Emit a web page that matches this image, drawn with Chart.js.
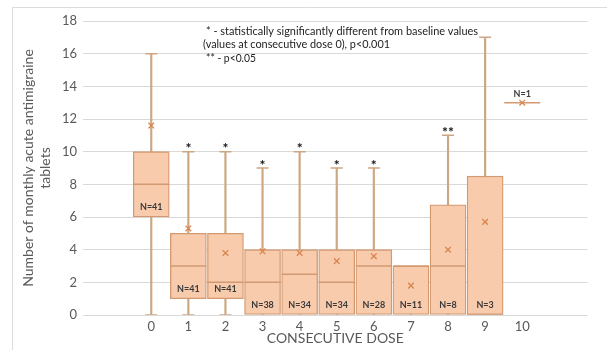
<!DOCTYPE html>
<html>
<head>
<meta charset="utf-8">
<script src="https://cdn.jsdelivr.net/npm/chart.js@4.4.1/dist/chart.umd.min.js"></script>
<style>
  html, body { margin: 0; padding: 0; background: #fff; }
</style>
</head>
<body>
<canvas id="doseChart" width="607" height="350"></canvas>
<script>
// values (tablets per month, by consecutive dose)
const doses   = [0, 1, 2, 3, 4, 5, 6, 7, 8, 9, 10];
const mins    = [0, 0, 0, 0, 0, 0, 0, 0, 0, 0, 13];
const q1s     = [6, 1, 1, 0, 0, 0, 0, 0, 0, 0, 13];
const medians = [8, 3, 2, 2, 2.5, 2, 3, 3, 3, 0, 13];
const q3s     = [10, 5, 5, 4, 4, 4, 4, 3, 6.75, 8.5, 13];
const maxs    = [16, 10, 10, 9, 10, 9, 9, 3, 11, 17, 13];
const means   = [11.6, 5.3, 3.8, 3.9, 3.8, 3.3, 3.6, 1.8, 4.0, 5.7, 13];
const nCounts = [41, 41, 41, 38, 34, 34, 28, 11, 8, 3, 1];
const sigMarks = ['', '*', '*', '*', '*', '*', '*', '', '**', '', ''];
const yTicks = [0, 2, 4, 6, 8, 10, 12, 14, 16, 18];
const noteLines = [
    '* - statistically significantly different from baseline values',
    '(values at consecutive dose 0), p<0.001',
    '** - p<0.05'
];

const boxFill = '#F8CBAD';
const boxEdge = '#D39A72';
const whiskerColor = '#CDA682';
const meanColor = '#D9844C';
const grayText = '#595959';

// caps only where the whisker sticks out of the box
const caps = [];
doses.forEach((d, i) => {
    if (mins[i] < q1s[i]) caps.push({ x: d, y: mins[i] });
    if (maxs[i] > q3s[i]) caps.push({ x: d, y: maxs[i] });
});

// texts: N=, significance marks, note, frame
const labelPlugin = {
    id: 'boxLabels',
    beforeDraw(chart) {
        const ctx = chart.ctx;
        ctx.save();
        ctx.strokeStyle = '#dcdcdc';
        ctx.lineWidth = 1;
        ctx.beginPath();
        ctx.moveTo(12.5, 350);
        ctx.lineTo(12.5, 7.5);
        ctx.lineTo(607, 7.5);
        ctx.stroke();
        ctx.restore();
    },
    afterDatasetsDraw(chart) {
        const { ctx, scales: { x, y } } = chart;
        ctx.save();
        ctx.textAlign = 'center';
        ctx.textBaseline = 'middle';

        ctx.font = 'bold 9px Lato';
        ctx.fillStyle = '#3a3a3a';
        doses.forEach((d, i) => {
            const px = x.getPixelForValue(d);
            let py = y.getPixelForValue(q1s[i]) - 10;
            if (q1s[i] === q3s[i]) py = y.getPixelForValue(q3s[i]) - 9;
            ctx.fillText('N=' + nCounts[i], px, py);
        });

        ctx.font = 'bold 14px Lato';
        ctx.fillStyle = '#111';
        sigMarks.forEach((m, i) => {
            if (!m) return;
            ctx.fillText(m, x.getPixelForValue(doses[i]), y.getPixelForValue(maxs[i]) - 3);
        });

        ctx.textAlign = 'left';
        ctx.font = '11px Lato';
        ctx.fillStyle = '#222';
        ctx.fillText(noteLines[0], 206, 31, 272);
        ctx.fillText(noteLines[1], 203, 44, 187);
        ctx.fillText(noteLines[2], 206, 58, 50);
        ctx.restore();
    }
};

const ctx = document.getElementById('doseChart').getContext('2d');
new Chart(ctx, {
    type: 'bar',
    data: {
        datasets: [
            {
                type: 'line',
                label: 'mean',
                data: doses.map((d, i) => ({ x: d, y: means[i] })),
                showLine: false,
                pointStyle: 'crossRot',
                pointRadius: 4,
                borderColor: meanColor,
                borderWidth: 1.3,
                order: 0
            },
            {
                type: 'line',
                label: 'median',
                data: doses.map((d, i) => ({ x: d, y: medians[i] })),
                showLine: false,
                pointStyle: 'line',
                pointRadius: 18,
                borderColor: boxEdge,
                borderWidth: 1.5,
                order: 1
            },
            {
                type: 'line',
                label: 'caps',
                data: caps,
                showLine: false,
                pointStyle: 'line',
                pointRadius: 6,
                borderColor: whiskerColor,
                borderWidth: 1.5,
                order: 3
            },
            {
                label: 'box',
                data: doses.map((d, i) => ({ x: d, y: [q1s[i], q3s[i]] })),
                grouped: false,
                barThickness: 36,
                backgroundColor: boxFill,
                borderColor: boxEdge,
                borderWidth: 1.3,
                borderSkipped: false,
                order: 2
            },
            {
                label: 'whisker',
                data: doses.map((d, i) => ({ x: d, y: [mins[i], maxs[i]] })),
                grouped: false,
                barThickness: 1.5,
                backgroundColor: whiskerColor,
                borderWidth: 0,
                order: 4
            }
        ]
    },
    options: {
        responsive: false,
        animation: false,
        events: [],
        layout: { padding: { left: 0, top: 21, right: 7, bottom: 0 } },
        plugins: { legend: { display: false }, tooltip: { enabled: false } },
        scales: {
            x: {
                type: 'linear',
                min: -1.84,
                max: 11.76,
                offset: false,
                grid: { display: false, drawTicks: false, offset: false },
                border: { display: false },
                ticks: {
                    stepSize: 1,
                    includeBounds: false,
                    autoSkip: false,
                    maxRotation: 0,
                    padding: 4,
                    color: grayText,
                    font: { family: 'Lato', size: 13 },
                    callback: v => (v >= 0 && v <= 10 && Number.isInteger(v)) ? String(v) : ''
                },
                title: {
                    display: true,
                    text: 'CONSECUTIVE DOSE',
                    color: grayText,
                    font: { family: 'Lato', size: 14 },
                    padding: { top: 0, bottom: 3 }
                },
                afterFit: s => { s.height = 35; }
            },
            y: {
                min: 0,
                max: 18,
                grid: { color: '#d9d9d9', drawTicks: false },
                border: { display: false },
                afterBuildTicks: s => { s.ticks = yTicks.map(v => ({ value: v })); },
                ticks: {
                    padding: 6,
                    color: grayText,
                    font: { family: 'Lato', size: 13 }
                },
                title: {
                    display: true,
                    text: ['Number of monthly acute antimigraine', 'tablets'],
                    color: grayText,
                    font: { family: 'Lato', size: 14 },
                    padding: { top: 20, bottom: 0 }
                },
                afterFit: s => { s.width = 83; }
            }
        }
    },
    plugins: [labelPlugin]
});
</script>
</body>
</html>
